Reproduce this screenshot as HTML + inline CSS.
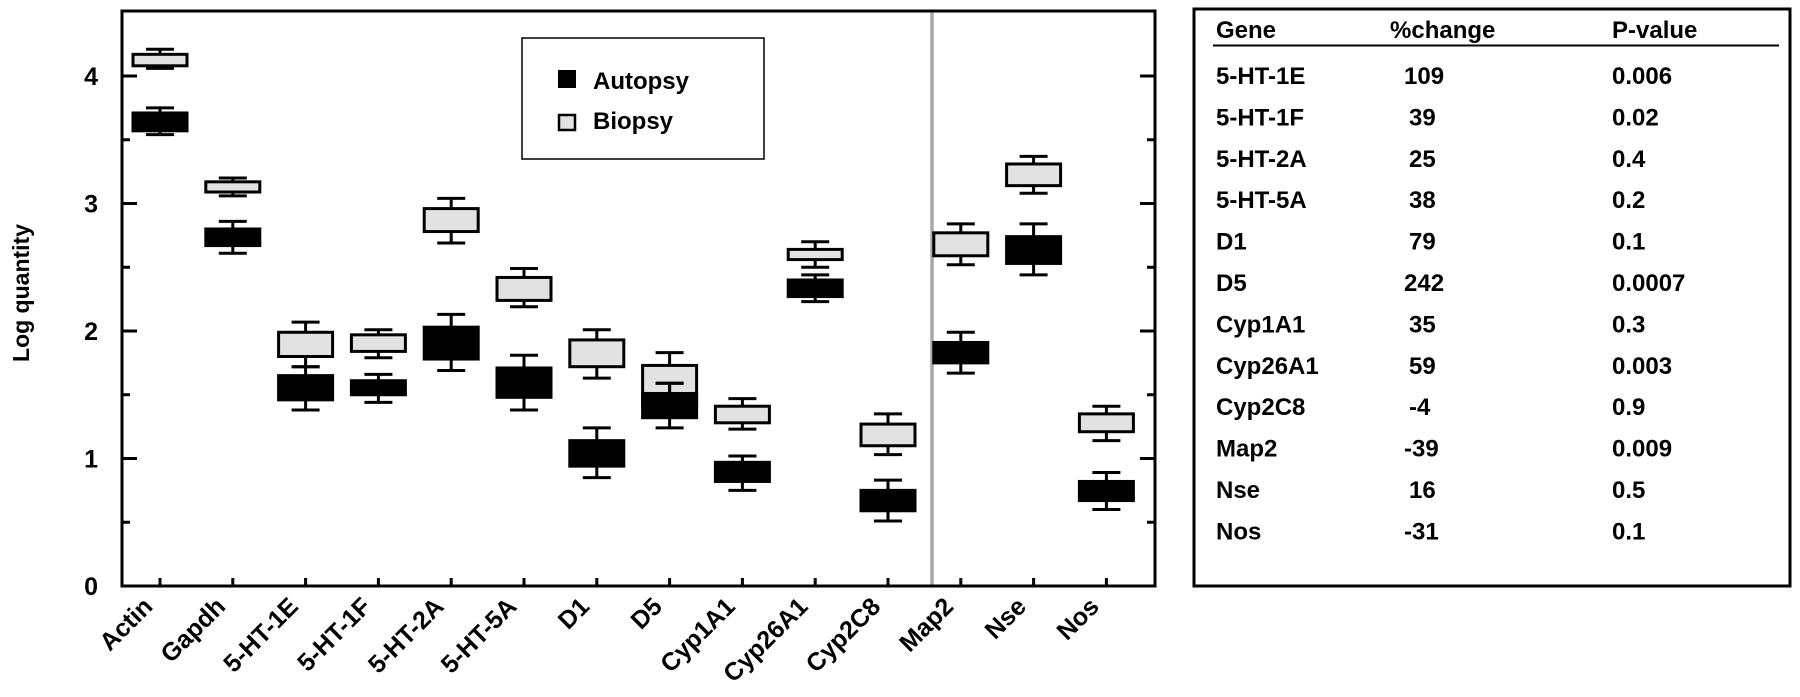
<!DOCTYPE html>
<html><head><meta charset="utf-8"><style>
html,body{margin:0;padding:0;background:#fff;}
svg{display:block;font-family:"Liberation Sans",Arial,sans-serif;font-weight:bold;}
</style></head><body>
<svg id="chart" width="1800" height="697" viewBox="0 0 1800 697" xmlns="http://www.w3.org/2000/svg">
<g id="plot"></g>
<g id="legend">
  <rect x="522" y="38" width="242" height="121" fill="#fff" stroke="#000" stroke-width="1.5"/>
  <rect x="559" y="71" width="16" height="16" fill="#000" stroke="#000" stroke-width="2"/>
  <text x="593" y="89" font-size="24">Autopsy</text>
  <rect x="559" y="115" width="16" height="15" fill="#e2e2e2" stroke="#000" stroke-width="2.5"/>
  <text x="593" y="129" font-size="24">Biopsy</text>
</g>
<g id="table">
  <rect x="1194" y="9" width="596" height="577" fill="none" stroke="#000" stroke-width="3"/>
  <text x="1216" y="38" font-size="24">Gene</text>
  <text x="1390" y="38" font-size="24">%change</text>
  <text x="1612" y="38" font-size="24">P-value</text>
  <line x1="1213" y1="45.5" x2="1779" y2="45.5" stroke="#000" stroke-width="2"/>
</g>
</svg>
<script>
const categories = ["Actin","Gapdh","5-HT-1E","5-HT-1F","5-HT-2A","5-HT-5A","D1","D5","Cyp1A1","Cyp26A1","Cyp2C8","Map2","Nse","Nos"];
const biopsyBoxHi = [4.17,3.17,1.99,1.97,2.96,2.42,1.93,1.73,1.41,2.64,1.27,2.77,3.31,1.35];
const biopsyBoxLo = [4.08,3.09,1.80,1.84,2.78,2.24,1.72,1.42,1.28,2.56,1.10,2.59,3.14,1.21];
const biopsyWhHi  = [4.21,3.20,2.07,2.01,3.04,2.49,2.01,1.83,1.47,2.70,1.35,2.84,3.37,1.41];
const biopsyWhLo  = [4.06,3.06,1.72,1.79,2.69,2.19,1.63,1.24,1.23,2.50,1.03,2.52,3.08,1.14];
const autopsyBoxHi = [3.71,2.80,1.65,1.61,2.03,1.71,1.14,1.51,0.97,2.40,0.75,1.91,2.74,0.82];
const autopsyBoxLo = [3.57,2.67,1.46,1.50,1.78,1.48,0.94,1.32,0.82,2.27,0.59,1.75,2.53,0.67];
const autopsyWhHi  = [3.75,2.86,1.72,1.66,2.13,1.81,1.24,1.59,1.02,2.44,0.83,1.99,2.84,0.89];
const autopsyWhLo  = [3.54,2.61,1.38,1.44,1.69,1.38,0.85,1.45,0.75,2.23,0.51,1.67,2.44,0.60];
const yTicks = [0,1,2,3,4];
const tableGenes = ["5-HT-1E","5-HT-1F","5-HT-2A","5-HT-5A","D1","D5","Cyp1A1","Cyp26A1","Cyp2C8","Map2","Nse","Nos"];
const tableChange = ["109","39","25","38","79","242","35","59","-4","-39","16","-31"];
const tablePValue = ["0.006","0.02","0.4","0.2","0.1","0.0007","0.3","0.003","0.9","0.009","0.5","0.1"];

const NS="http://www.w3.org/2000/svg";
const L=122,R=1155,T=11,B=586;
const y=v=>B-127.5*v;
const x=i=>160+72.8*i;
function mk(tag,attrs,parent){const e=document.createElementNS(NS,tag);for(const k in attrs)e.setAttribute(k,attrs[k]);parent.appendChild(e);return e;}
const plot=document.getElementById('plot');

const dv=mk('line',{x1:932,y1:T,x2:932,y2:B,stroke:'#a8a8a8','stroke-width':3.5},plot);



const fr=mk('rect',{x:L,y:T,width:R-L,height:B-T,fill:'none',stroke:'#000','stroke-width':3},plot);



for(let v=0.5;v<4.5;v+=0.5){
  const major=Math.abs(v-Math.round(v))<1e-6;
  const len=major?15:8;
  mk('line',{x1:L,y1:y(v),x2:L+len,y2:y(v),stroke:'#000','stroke-width':3},plot);
  mk('line',{x1:R,y1:y(v),x2:R-len,y2:y(v),stroke:'#000','stroke-width':3},plot);
}
yTicks.forEach(v=>{
  const t=mk('text',{x:98,y:y(v)+9,'font-size':25,'text-anchor':'end'},plot);
  t.textContent=v;
  
  
});
const yl=mk('text',{x:0,y:0,'font-size':23,'text-anchor':'middle',transform:'translate(29,293) rotate(-90)'},plot);
yl.textContent='Log quantity';



function drawBox(i,hi,lo,wh,wl,fill,name){
  const g=mk('g',{},plot);
  
  
  const cx=x(i);
  mk('line',{x1:cx,y1:y(wh),x2:cx,y2:y(wl),stroke:'#000','stroke-width':3},g);
  mk('line',{x1:cx-14,y1:y(wh),x2:cx+14,y2:y(wh),stroke:'#000','stroke-width':3},g);
  mk('line',{x1:cx-14,y1:y(wl),x2:cx+14,y2:y(wl),stroke:'#000','stroke-width':3},g);
  mk('rect',{x:cx-27,y:y(hi),width:54,height:y(lo)-y(hi),fill:fill,stroke:'#000','stroke-width':3},g);
}
categories.forEach((c,i)=>{
  drawBox(i,biopsyBoxHi[i],biopsyBoxLo[i],biopsyWhHi[i],biopsyWhLo[i],'#e2e2e2','biopsy-box-'+c.toLowerCase());
  drawBox(i,autopsyBoxHi[i],autopsyBoxLo[i],autopsyWhHi[i],autopsyWhLo[i],'#000','autopsy-box-'+c.toLowerCase());
  if(c==='D5'){
    const cx=x(i);
    mk('line',{x1:cx,y1:y(autopsyWhHi[i]),x2:cx,y2:y(autopsyBoxHi[i]),stroke:'#000','stroke-width':3},plot);
    mk('line',{x1:cx-14,y1:y(autopsyWhHi[i]),x2:cx+14,y2:y(autopsyWhHi[i]),stroke:'#000','stroke-width':3},plot);
  }
  mk('line',{x1:x(i),y1:B,x2:x(i),y2:B-8,stroke:'#000','stroke-width':3},plot);
  const t=mk('text',{x:0,y:0,'font-size':25,'text-anchor':'end',transform:`translate(${x(i)-6},${B+22}) rotate(-45)`},plot);
  t.textContent=c;
  
  
});

const tbl=document.getElementById('table');
tableGenes.forEach((g,i)=>{
  const yy=84+41.4*i;
  const a=mk('text',{x:1216,y:yy,'font-size':24},tbl);a.textContent=g;
  
  
  const b=mk('text',{x:tableChange[i].length===3?1404:1409,y:yy,'font-size':24},tbl);b.textContent=tableChange[i];
  
  
  const p=mk('text',{x:1612,y:yy,'font-size':24},tbl);p.textContent=tablePValue[i];
  
  
});
</script>
</body></html>
